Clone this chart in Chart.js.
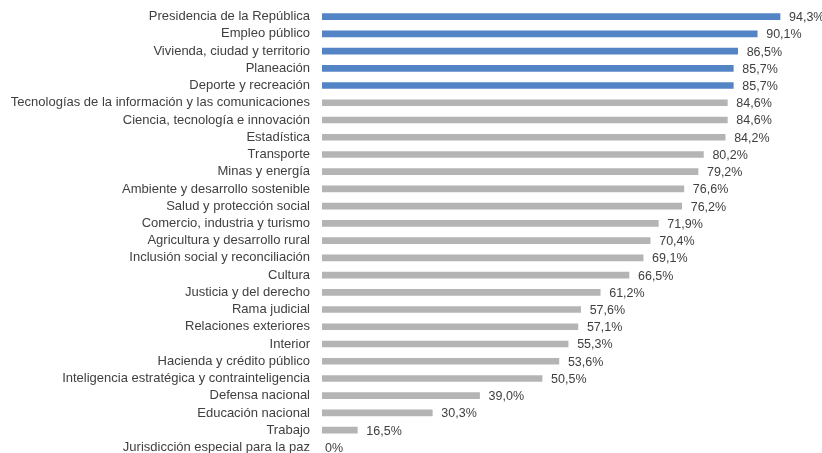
<!DOCTYPE html>
<html>
<head>
    <meta charset="utf-8">
    <style>
        body, html {
            margin: 0;
            padding: 0;
            background: white;
            overflow: hidden;
        }
        #container {
            width: 822px;
            height: 456px;
            position: relative;
        }
    </style>
    <script src="https://cdn.jsdelivr.net/npm/chart.js"></script>
</head>
<body>
    <div id="container">
        <canvas id="sectorChart"></canvas>
    </div>

    <script>
        // Datos del gráfico (porcentaje por sector)
        const sectores = [
            "Presidencia de la República",
            "Empleo público",
            "Vivienda, ciudad y territorio",
            "Planeación",
            "Deporte y recreación",
            "Tecnologías de la información y las comunicaciones",
            "Ciencia, tecnología e innovación",
            "Estadística",
            "Transporte",
            "Minas y energía",
            "Ambiente y desarrollo sostenible",
            "Salud y protección social",
            "Comercio, industria y turismo",
            "Agricultura y desarrollo rural",
            "Inclusión social y reconciliación",
            "Cultura",
            "Justicia y del derecho",
            "Rama judicial",
            "Relaciones exteriores",
            "Interior",
            "Hacienda y crédito público",
            "Inteligencia estratégica y contrainteligencia",
            "Defensa nacional",
            "Educación nacional",
            "Trabajo",
            "Jurisdicción especial para la paz"
        ];
        const porcentajes = [94.3, 90.1, 86.5, 85.7, 85.7, 84.6, 84.6, 84.2, 80.2, 79.2, 76.6, 76.2, 71.9, 70.4, 69.1, 66.5, 61.2, 57.6, 57.1, 55.3, 53.6, 50.5, 39.0, 30.3, 16.5, 0];
        const numDestacados = 5; // los cinco primeros van en azul

        const azul = '#5384C6';
        const gris = '#B4B4B4';
        const colorTexto = '#404040';
        const fuente = "'Liberation Sans', Arial, sans-serif";

        const colores = porcentajes.map((v, i) => i < numDestacados ? azul : gris);

        // Etiquetas de valor al final de cada barra ("94,3%")
        const etiquetasValor = {
            id: 'etiquetasValor',
            afterDatasetsDraw(chart) {
                const ctx = chart.ctx;
                const meta = chart.getDatasetMeta(0);
                const xScale = chart.scales.x;
                ctx.save();
                ctx.font = '12.5px ' + fuente;
                ctx.fillStyle = colorTexto;
                ctx.textAlign = 'left';
                ctx.textBaseline = 'middle';
                meta.data.forEach((bar, i) => {
                    const v = porcentajes[i];
                    const texto = v === 0 ? '0%' : v.toFixed(1).replace('.', ',') + '%';
                    const x = Math.max(xScale.getPixelForValue(v) + 9, chart.chartArea.left + 3);
                    ctx.fillText(texto, x, bar.y + 1);
                });
                ctx.restore();
            }
        };

        const chartCtx = document.getElementById("sectorChart").getContext("2d");
        new Chart(chartCtx, {
            type: 'bar',
            data: {
                labels: sectores,
                datasets: [{
                    data: porcentajes,
                    backgroundColor: colores,
                    barThickness: 6,
                    clip: 0
                }]
            },
            options: {
                responsive: true,
                maintainAspectRatio: false,
                animation: false,
                indexAxis: 'y',
                layout: {
                    padding: { top: 8, bottom: 0, left: 0, right: 11 }
                },
                scales: {
                    x: {
                        display: false,
                        min: 10,
                        max: 100
                    },
                    y: {
                        grid: { display: false, drawTicks: false },
                        border: { display: false },
                        afterFit(scale) {
                            scale.width = 322;
                            // sin margen extra arriba/abajo por las etiquetas
                            scale.paddingTop = 0;
                            scale.paddingBottom = 0;
                        },
                        ticks: {
                            autoSkip: false,
                            padding: 12,
                            color: colorTexto,
                            font: { size: 13, family: fuente }
                        }
                    }
                },
                plugins: {
                    legend: { display: false },
                    tooltip: { enabled: false }
                }
            },
            plugins: [etiquetasValor]
        });
    </script>
</body>
</html>
